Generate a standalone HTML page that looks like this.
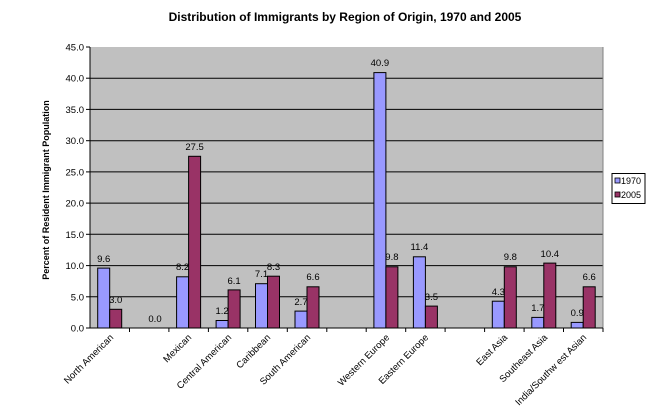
<!DOCTYPE html>
<html><head><meta charset="utf-8"><style>
html,body{margin:0;padding:0;background:#fff;}
svg{display:block;font-family:"Liberation Sans",Arial,sans-serif;}
</style></head><body>
<svg width="669" height="411" viewBox="0 0 669 411" xmlns="http://www.w3.org/2000/svg">
<text x="345" y="21" text-anchor="middle" font-size="12" font-weight="bold">Distribution  of Immigrants by Region of Origin, 1970 and 2005</text>
<rect x="90" y="47" width="513" height="281" fill="#c0c0c0"/>
<g stroke="#000" stroke-width="1">
<line x1="90" y1="78.2" x2="603" y2="78.2"/>
<line x1="90" y1="109.4" x2="603" y2="109.4"/>
<line x1="90" y1="140.7" x2="603" y2="140.7"/>
<line x1="90" y1="171.9" x2="603" y2="171.9"/>
<line x1="90" y1="203.1" x2="603" y2="203.1"/>
<line x1="90" y1="234.3" x2="603" y2="234.3"/>
<line x1="90" y1="265.6" x2="603" y2="265.6"/>
<line x1="90" y1="296.8" x2="603" y2="296.8"/>
</g>
<g stroke="#808080"><line x1="603" y1="47" x2="603" y2="328"/></g>
<g stroke="#000" stroke-width="1">
<rect x="97.7" y="268.1" width="12" height="59.9" fill="#9999ff"/>
<rect x="109.7" y="309.3" width="12" height="18.7" fill="#993366"/>
<rect x="176.6" y="276.8" width="12" height="51.2" fill="#9999ff"/>
<rect x="188.6" y="156.3" width="12" height="171.7" fill="#993366"/>
<rect x="216.1" y="320.5" width="12" height="7.5" fill="#9999ff"/>
<rect x="228.1" y="289.9" width="12" height="38.1" fill="#993366"/>
<rect x="255.5" y="283.7" width="12" height="44.3" fill="#9999ff"/>
<rect x="267.5" y="276.2" width="12" height="51.8" fill="#993366"/>
<rect x="295" y="311.1" width="12" height="16.9" fill="#9999ff"/>
<rect x="307" y="286.8" width="12" height="41.2" fill="#993366"/>
<rect x="373.9" y="72.6" width="12" height="255.4" fill="#9999ff"/>
<rect x="385.9" y="266.8" width="12" height="61.2" fill="#993366"/>
<rect x="413.4" y="256.8" width="12" height="71.2" fill="#9999ff"/>
<rect x="425.4" y="306.1" width="12" height="21.9" fill="#993366"/>
<rect x="492.3" y="301.2" width="12" height="26.8" fill="#9999ff"/>
<rect x="504.3" y="266.8" width="12" height="61.2" fill="#993366"/>
<rect x="531.8" y="317.4" width="12" height="10.6" fill="#9999ff"/>
<rect x="543.8" y="263.1" width="12" height="64.9" fill="#993366"/>
<rect x="571.2" y="322.4" width="12" height="5.6" fill="#9999ff"/>
<rect x="583.2" y="286.8" width="12" height="41.2" fill="#993366"/>
</g>
<g font-size="9.5" text-anchor="middle" fill="#000">
<text x="103.7" y="262">9.6</text><text x="115.7" y="303">3.0</text>
<text x="155" y="322">0.0</text>
<text x="182.6" y="270">8.2</text><text x="194.6" y="150">27.5</text>
<text x="222.1" y="314">1.2</text><text x="234.1" y="284">6.1</text>
<text x="261.5" y="277">7.1</text><text x="273.5" y="270">8.3</text>
<text x="301" y="305">2.7</text><text x="313" y="280">6.6</text>
<text x="379.9" y="66">40.9</text><text x="391.9" y="260">9.8</text>
<text x="419.4" y="250">11.4</text><text x="431.4" y="300">3.5</text>
<text x="498.3" y="295">4.3</text><text x="510.3" y="260">9.8</text>
<text x="537.8" y="311">1.7</text><text x="549.8" y="257">10.4</text>
<text x="577.2" y="316">0.9</text><text x="589.2" y="280">6.6</text>
</g>
<g stroke="#000"><line x1="90" y1="47" x2="90" y2="328"/><line x1="90" y1="328" x2="603" y2="328"/>
<line x1="86" y1="47" x2="90" y2="47"/><line x1="86" y1="78.2" x2="90" y2="78.2"/><line x1="86" y1="109.4" x2="90" y2="109.4"/><line x1="86" y1="140.7" x2="90" y2="140.7"/><line x1="86" y1="171.9" x2="90" y2="171.9"/><line x1="86" y1="203.1" x2="90" y2="203.1"/><line x1="86" y1="234.3" x2="90" y2="234.3"/><line x1="86" y1="265.6" x2="90" y2="265.6"/><line x1="86" y1="296.8" x2="90" y2="296.8"/><line x1="86" y1="328" x2="90" y2="328"/>
<line x1="129.5" y1="328" x2="129.5" y2="332"/><line x1="168.9" y1="328" x2="168.9" y2="332"/><line x1="208.4" y1="328" x2="208.4" y2="332"/><line x1="247.8" y1="328" x2="247.8" y2="332"/><line x1="287.3" y1="328" x2="287.3" y2="332"/><line x1="326.8" y1="328" x2="326.8" y2="332"/><line x1="366.2" y1="328" x2="366.2" y2="332"/><line x1="405.7" y1="328" x2="405.7" y2="332"/><line x1="445.1" y1="328" x2="445.1" y2="332"/><line x1="484.6" y1="328" x2="484.6" y2="332"/><line x1="524.1" y1="328" x2="524.1" y2="332"/><line x1="563.5" y1="328" x2="563.5" y2="332"/><line x1="603" y1="328" x2="603" y2="332"/>
</g>
<g font-size="9.5" text-anchor="end">
<text x="84" y="50.5">45.0</text><text x="84" y="81.7">40.0</text><text x="84" y="112.9">35.0</text><text x="84" y="144.2">30.0</text><text x="84" y="175.4">25.0</text><text x="84" y="206.6">20.0</text><text x="84" y="237.8">15.0</text><text x="84" y="269.1">10.0</text><text x="84" y="300.3">5.0</text><text x="84" y="331.5">0.0</text>
</g>
<text transform="translate(49,190) rotate(-90)" text-anchor="middle" font-size="9" font-weight="bold">Percent of Resident Immigrant Population</text>
<g font-size="9.5" text-anchor="end">
<text transform="translate(114,338) rotate(-45)">North American</text>
<text transform="translate(192,338) rotate(-45)">Mexican</text>
<text transform="translate(232,338) rotate(-45)">Central American</text>
<text transform="translate(271,338) rotate(-45)">Caribbean</text>
<text transform="translate(311,338) rotate(-45)">South American</text>
<text transform="translate(390,338) rotate(-45)">Western Europe</text>
<text transform="translate(429,338) rotate(-45)">Eastern Europe</text>
<text transform="translate(508,338) rotate(-45)">East Asia</text>
<text transform="translate(548,338) rotate(-45)">Southeast Asia</text>
<text transform="translate(587,338) rotate(-45)">India/Southw est Asian</text>
</g>
<rect x="612" y="173.5" width="33" height="30" fill="#fff" stroke="#000"/>
<rect x="615" y="178" width="5" height="5" fill="#9999ff" stroke="#000" stroke-width="0.8"/>
<text x="621" y="184" font-size="9">1970</text>
<rect x="615" y="192" width="5" height="5" fill="#993366" stroke="#000" stroke-width="0.8"/>
<text x="621" y="198" font-size="9">2005</text>
</svg>
</body></html>
